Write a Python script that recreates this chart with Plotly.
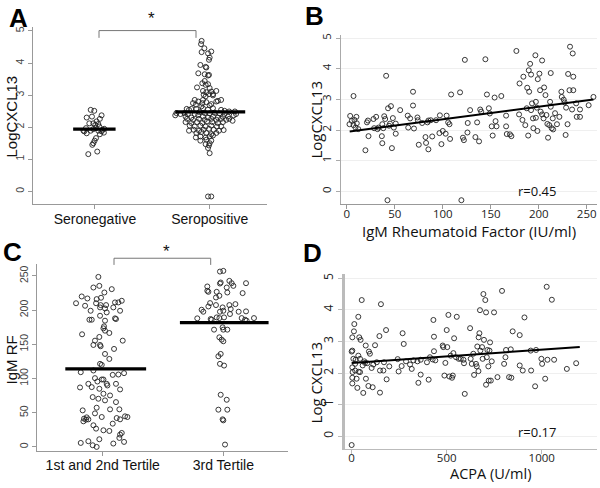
import numpy as np
import plotly.graph_objects as go

# ---------------- Panel A data ----------------
a_categories = ["Seronegative", "Seropositive"]
a_neg_jitter = [-0.037, -0.006, -0.026, -0.072, 0.058, 0.043, 0.014, -0.014, -0.049, 0.003,
                0.029, 0.038, -0.078, -0.093, -0.072, -0.037, -0.014, 0.009, 0.029, 0.058,
                0.081, 0.078, 0.043, 0.009, -0.003, -0.014, -0.023, -0.058, 0.020, -0.10, 0.067]
a_neg_values = [2.54, 2.51, 2.33, 2.30, 2.37, 2.26, 2.18, 2.12, 2.12, 2.07,
                2.10, 2.02, 1.97, 1.87, 1.81, 1.89, 1.94, 1.97, 1.89, 1.87,
                1.95, 1.83, 1.78, 1.66, 1.58, 1.50, 1.45, 1.16, 1.24, 1.89, 1.92]
a_pos_jitter = [-0.07, -0.075, -0.046, -0.07, -0.014, 0.014, 0, -0.006, -0.081, -0.035,
                -0.029, -0.099, -0.043, -0.006, -0.014, -0.043, -0.064, -0.014, -0.11, -0.035,
                0, -0.058, -0.029, 0.014, 0.058, -0.006, 0.029, -0.052, -0.035, 0.029,
                -0.13, -0.10, -0.145, -0.058, 0.072, 0.10, -0.064, -0.029, 0.014, 0.058,
                -0.12, -0.072, 0, -0.20, -0.18, -0.16, -0.116, -0.058, -0.014, 0.029,
                0.10, 0.13, 0.17, 0.22, -0.29, -0.255, -0.22, -0.19, -0.13, -0.087,
                -0.043, 0, 0.043, 0.087, 0.13, 0.23, -0.30, -0.21, -0.16, -0.10,
                -0.058, -0.014, 0.029, 0.072, 0.116, 0.16, 0.21, -0.197, -0.145, -0.093,
                -0.043, 0.014, 0.058, 0.10, 0.145, 0.17, -0.21, -0.16, -0.11, -0.064,
                -0.023, 0.023, 0.072, 0.116, 0.20, -0.174, -0.13, -0.081, -0.035, 0.014,
                0.064, 0.10, -0.18, -0.139, -0.093, -0.052, -0.006, 0.035, 0.081, 0.122,
                -0.116, -0.072, -0.029, 0.014, 0.058, -0.12, -0.081, -0.035, 0, 0.029,
                -0.081, -0.029, 0.014, -0.035, 0, -0.006, -0.014, 0, -0.014, 0.014]
a_pos_values = [4.69, 4.59, 4.46, 4.34, 4.30, 4.36, 4.17, 4.10, 3.94, 3.88,
                3.86, 3.68, 3.65, 3.63, 3.61, 3.44, 3.37, 3.34, 3.24, 3.32,
                3.22, 3.13, 3.09, 3.11, 3.13, 3.03, 3.03, 3.01, 2.96, 2.99,
                2.85, 2.80, 2.75, 2.85, 2.82, 2.85, 2.75, 2.78, 2.72, 2.80,
                2.70, 2.65, 2.68, 2.57, 2.54, 2.57, 2.57, 2.59, 2.55, 2.59,
                2.54, 2.51, 2.49, 2.49, 2.44, 2.41, 2.44, 2.41, 2.41, 2.47,
                2.44, 2.43, 2.45, 2.43, 2.41, 2.41, 2.37, 2.33, 2.30, 2.37,
                2.33, 2.30, 2.33, 2.30, 2.33, 2.33, 2.37, 2.26, 2.23, 2.26,
                2.23, 2.26, 2.23, 2.26, 2.23, 2.26, 2.16, 2.13, 2.16, 2.13,
                2.18, 2.16, 2.13, 2.16, 2.20, 2.05, 2.02, 2.05, 2.02, 2.05,
                2.02, 2.02, 1.89, 1.92, 1.89, 1.92, 1.95, 1.92, 1.89, 1.91,
                1.82, 1.85, 1.82, 1.78, 1.82, 1.68, 1.71, 1.68, 1.71, 1.74,
                1.58, 1.61, 1.58, 1.47, 1.50, 1.43, 1.35, 1.19, -0.16, -0.16]
a_means = [1.94, 2.48]
a_mean_span = [(-0.19, 0.18), (-0.30, 0.31)]

# ---------------- Panel B data ----------------
b_rf = [2.8, 3.5, 5.2, 7, 7, 8, 9, 10, 10.4, 12, 19.4, 21, 22.6, 22, 27.8, 28.5, 30.6, 32, 33,
        36.5, 37, 37, 38, 39, 40, 41, 42.4, 43, 44, 45, 46, 47, 48, 49, 51, 51, 55.6, 63.5, 64,
        66, 69, 69, 70, 73.6, 74, 75, 78.5, 82, 82.6, 84, 85, 85, 87.5, 89, 93, 96.5, 97, 98.6,
        100, 103, 104, 105.6, 107, 107.6, 108.7, 118, 119.4, 121, 122, 123, 125.7, 126, 128.5,
        134, 135.8, 137.8, 139, 140, 144.4, 146, 148, 149, 151, 152, 154, 155, 156, 161, 166,
        166, 166.7, 170, 171.5, 176.7, 179.5, 180, 183, 184, 186, 187.5, 188, 189, 189.6, 190,
        191, 192, 192, 193, 194, 194.4, 196.5, 197, 197, 198, 198.6, 199, 200.7, 201.4, 202,
        203.5, 203.5, 205, 205.6, 207, 208, 209, 209.7, 211, 211.8, 212.5, 212.5, 213.5, 214.6,
        215, 217, 219, 221.5, 223.6, 224, 226, 227, 228, 228.5, 230, 230.6, 232, 232.6, 234.7,
        235.4, 236, 236, 239, 239.6, 243, 243, 252, 257]
b_cxcl13 = [2.19, 2.46, 2.30, 3.11, 2.16, 2.33, 2.08, 2.43, 2.22, 2.03, 1.34, 2.25, 1.80, 2.31,
            2.36, 2.06, 2.43, 2.03, 2.08, 1.80, 1.57, 2.19, 2.06, 2.45, 2.36, 3.77, -0.29, 2.71,
            2.14, 2.21, 2.78, 1.41, 2.39, 2.08, 2.21, 1.88, 2.65, 2.47, 2.08, 2.38, 3.25, 2.80,
            2.05, 2.41, 2.32, 1.52, 2.23, 1.77, 1.58, 2.25, 1.37, 2.31, 2.32, 1.79, 2.32, 1.90,
            2.48, 1.54, 1.97, 1.88, 2.47, 2.25, 2.19, 1.71, 3.16, 3.23, -0.29, 1.75, 1.67, 4.29,
            1.92, 2.23, 2.65, 1.77, 2.25, 1.63, 2.67, 2.60, 4.31, 3.16, 2.71, 2.54, 2.12, 1.82,
            3.06, 2.29, 2.12, 3.11, 2.47, 2.12, 1.87, 1.86, 1.80, 4.58, 2.51, 3.52, 2.33, 3.74,
            2.16, 2.71, 3.38, 1.82, 3.95, 3.25, 4.16, 3.81, 2.65, 2.87, 2.38, 2.06, 4.44, 2.92,
            2.40, 2.73, 1.97, 3.66, 3.84, 3.30, 2.60, 4.27, 2.51, 2.38, 3.39, 3.14, 2.49, 2.20,
            1.75, 2.16, 2.92, 3.86, 2.76, 2.06, 2.38, 2.02, 2.55, 2.19, 2.43, 3.25, 3.08, 2.99,
            2.90, 1.84, 2.73, 2.19, 3.83, 3.30, 4.72, 2.67, 4.50, 3.74, 3.30, 2.87, 2.43, 2.43,
            2.67, 2.81, 3.08]
b_fit_x = [3, 257]
b_fit_y = [1.95, 3.00]
b_r_label = "r=0.45"

# ---------------- Panel C data ----------------
c_categories = ["1st and 2nd Tertile", "3rd Tertile"]
c_low_jitter = [-0.036, -0.077, -0.028, 0.075, 0.014, -0.174, -0.127, -0.05, -0.014, -0.221,
                -0.146, -0.055, -0.017, 0.028, 0.102, 0.13, 0.158, -0.10, -0.022, 0.019,
                0.088, 0.144, -0.022, 0.033, -0.11, -0.091, 0.019, 0.102, 0.11, 0.011,
                0.006, 0.019, 0.055, -0.171, -0.028, -0.064, -0.077, -0.022, -0.017, 0.166,
                0.094, 0.019, 0.055, -0.022, -0.008, -0.182, -0.077, 0.083, 0.13, 0.177,
                -0.064, -0.008, -0.044, 0.006, -0.119, -0.091, -0.188, -0.028, 0.039, 0.033,
                0.11, 0.144, 0.006, 0.061, -0.083, -0.036, 0.019, 0.11, -0.05, 0.061,
                0.138, -0.166, -0.064, -0.008, -0.133, -0.155, -0.138, -0.16, -0.119, 0.185,
                0.205, 0.116, 0.144, 0.083, -0.077, -0.055, 0.006, 0.055, 0.144, 0.158,
                0.138, -0.182, -0.119, -0.083, -0.05, -0.028, 0.088, 0.177]
c_low_values = [248.5, 233, 235.4, 230.6, 225.7, 219.9, 217, 216, 218, 210,
                206.3, 210, 207.3, 207.3, 211.2, 211.2, 213.6, 199, 203.9, 202.4,
                203.9, 199, 191.7, 196.6, 185.9, 185.9, 184.5, 187.9, 186.9, 176.2,
                173.3, 169.9, 166.5, 164.6, 160.7, 155.3, 149, 149, 147.1, 155.3,
                143.2, 135.9, 128.6, 121.4, 119.9, 109.2, 111.7, 105.3, 105.8, 107.8,
                100.5, 98.5, 95.6, 98.5, 92.2, 87.4, 86.9, 85, 89.8, 92.2,
                92.2, 84, 77.7, 75.2, 72.8, 70.4, 68, 65.5, 57.3, 54.9,
                54.9, 53.4, 49, 43.7, 43.2, 41.3, 39.8, 37.4, 40.3, 44.7,
                43.7, 42.2, 40.3, 34, 31.6, 26.7, 24.3, 23.3, 17.96, 20.4,
                13.1, 5.8, 8.3, 2.4, 0, 11.2, 4.9, 7.3]
c_high_jitter = [-0.028, 0, -0.022, -0.028, 0.05, 0.069, 0.083, 0.188, -0.133, -0.055,
                 0.028, -0.133, -0.124, -0.061, -0.033, 0.033, 0.16, -0.11, -0.124, -0.061,
                 -0.006, 0.05, 0.1, 0.061, -0.028, 0, -0.18, -0.166, 0.127, 0.188,
                 -0.055, -0.105, -0.097, -0.033, 0.006, 0.055, 0.152, 0.18, 0.193, 0.254,
                 -0.216, -0.077, -0.006, 0, 0.033, -0.033, -0.014, 0, -0.022, -0.041,
                 -0.028, 0.006, -0.022, 0.028, -0.041, 0.033, -0.006, 0, 0.014]
c_high_values = [256.3, 257.3, 240.3, 238.8, 242.7, 239.3, 235.4, 239.3, 234.5, 226.7,
                 233, 228.2, 226.7, 218.4, 220.9, 225.7, 224.8, 210.2, 205.3, 207.3,
                 203.9, 207.3, 208.7, 201.5, 197.6, 199, 200.5, 197.6, 197.6, 198.1,
                 189.3, 186.9, 185.9, 188.3, 189.3, 194.2, 188.3, 185.9, 184.5, 188.3,
                 187.9, 171.4, 174.8, 171.4, 171.4, 160.2, 156.8, 154.4, 135.9, 132.5,
                 121.4, 118.9, 76.2, 68.9, 54.4, 54.4, 40.3, 38.8, 3.4]
c_means = [114, 181.6]
c_mean_span = [(-0.31, 0.36), (-0.36, 0.375)]

# ---------------- Panel D data ----------------
d_acpa = [0, 0, 3.5, 3.5, 3.5, 3.5, 3.5, 5, 9, 12, 14, 18, 18, 21, 26, 30, 35, 35, 37, 40, 44,
          44, 47, 53, 58, 61, 67, 70, 74, 75, 82, 88, 91, 96, 105, 110.5, 114, 123, 132, 146,
          149, 149, 154, 167, 170, 181, 184, 198, 242, 247, 263, 268, 274, 286, 307, 316, 325,
          346, 351, 363, 363, 396, 405, 412, 426, 430, 433, 433, 440, 479, 482, 488, 493, 500,
          503, 509, 514, 521, 528, 532, 535, 539, 549, 553, 563, 574, 588, 591, 595, 623, 626,
          632, 640, 644, 654, 658, 661, 667, 668, 672, 675, 677, 686, 689, 693, 696, 703, 707,
          707, 711, 714, 719, 721, 725, 728, 732, 737, 749, 767, 791, 802, 809, 812, 828, 837,
          840, 847, 884, 884, 900, 909, 942, 944, 970, 965, 998, 1002, 1018, 1026, 1030, 1053,
          1065, 1132, 1181]
d_cxcl13 = [-0.28, 2.68, 2.71, 3.13, 1.85, 1.67, 2.18, 2.03, 2.45, 3.32, 3.55, 2.08, 2.29, 2.42,
            1.82, 1.53, 3.78, 2.55, 2.04, 3.13, 2.03, 2.45, 3.05, 4.31, 2.24, 1.37, 2.37, 2.32,
            2.87, 1.82, 2.31, 1.59, 2.68, 2.61, 2.16, 1.55, 2.27, 2.88, 2.34, 3.17, 2.08, 1.38,
            4.18, 2.08, 2.34, 3.36, 1.80, 2.21, 2.44, 2.05, 2.22, 3.26, 2.92, 2.37, 2.27, 2.13,
            2.40, 2.37, 1.69, 1.95, 2.42, 2.34, 1.79, 2.50, 2.43, 3.68, 3.15, 2.69, 2.40, 2.87,
            2.82, 1.92, 2.32, 3.36, 2.82, 3.84, 1.89, 2.55, 1.85, 1.92, 2.63, 3.10, 2.50, 3.78,
            2.45, 2.45, 2.42, 2.31, 1.34, 3.42, 2.45, 2.29, 2.61, 1.94, 2.29, 2.21, 2.84, 2.06,
            3.13, 3.26, 3.99, 2.71, 2.82, 2.45, 4.50, 3.05, 4.31, 3.92, 1.63, 2.50, 2.73, 2.21,
            1.76, 2.71, 2.97, 1.76, 2.37, 3.92, 1.87, 4.60, 2.29, 2.50, 2.73, 1.87, 2.75, 1.85,
            3.32, 3.20, 2.24, 2.08, 3.76, 2.71, 2.08, 2.73, 1.58, 2.45, 2.29, 1.82, 4.73, 2.42,
            4.32, 2.42, 2.13, 2.31]
d_fit_x = [0, 1200]
d_fit_y = [2.32, 2.82]
d_r_label = "r=0.17"

# ---------------- Figure ----------------
W, H = 600, 488
ARIAL = "Liberation Sans, Arial, sans-serif"
OPEN = "Open Sans, Noto Sans, sans-serif"
marker = dict(symbol="circle-open", size=5, color="#222", line=dict(width=0.9, color="#222"))

fig = go.Figure()

def strip(cat, jit, vals, xa, ya):
    x = [cat + j for j in jit]
    fig.add_trace(go.Scatter(x=x, y=vals, mode="markers", marker=marker,
                             xaxis=xa, yaxis=ya, hoverinfo="y", showlegend=False))

def mean_line(cat, m, span, xa, ya):
    fig.add_trace(go.Scatter(x=[cat + span[0], cat + span[1]], y=[m, m], mode="lines",
                             line=dict(color="black", width=3.2), xaxis=xa, yaxis=ya,
                             hoverinfo="skip", showlegend=False))

# A
strip(1, a_neg_jitter, a_neg_values, "x", "y")
strip(2, a_pos_jitter, a_pos_values, "x", "y")
for i, m in enumerate(a_means):
    mean_line(i + 1, m, a_mean_span[i], "x", "y")

# B
fig.add_trace(go.Scatter(x=b_rf, y=b_cxcl13, mode="markers", marker=marker,
                         xaxis="x2", yaxis="y2", showlegend=False))
fig.add_trace(go.Scatter(x=b_fit_x, y=b_fit_y, mode="lines", line=dict(color="black", width=2),
                         xaxis="x2", yaxis="y2", showlegend=False, hoverinfo="skip"))

# C
strip(1, c_low_jitter, c_low_values, "x3", "y3")
strip(2, c_high_jitter, c_high_values, "x3", "y3")
for i, m in enumerate(c_means):
    mean_line(i + 1, m, c_mean_span[i], "x3", "y3")

# D
fig.add_trace(go.Scatter(x=d_acpa, y=d_cxcl13, mode="markers", marker=marker,
                         xaxis="x4", yaxis="y4", showlegend=False))
fig.add_trace(go.Scatter(x=d_fit_x, y=d_fit_y, mode="lines", line=dict(color="black", width=2),
                         xaxis="x4", yaxis="y4", showlegend=False, hoverinfo="skip"))

def px(x):
    return x / W

def py(y):
    return 1 - y / H

r_axis_common = dict(showline=True, linecolor="#999", linewidth=1, ticks="outside",
                     ticklen=4, tickcolor="#999", zeroline=False, showgrid=False)

fig.update_layout(
    width=W, height=H, margin=dict(l=0, r=0, t=0, b=0),
    paper_bgcolor="white", plot_bgcolor="white",
    xaxis=dict(domain=[0.055, 0.445], range=[0.46, 2.50], tickvals=[1, 2], ticktext=a_categories,
               tickfont=dict(family=ARIAL, size=14, color="#111"), anchor="y",
               ticklabelstandoff=-2, **r_axis_common),
    yaxis=dict(domain=[0.584, 0.949], range=[-0.40, 5.13], tickvals=[0, 1, 2, 3, 4, 5],
               tickangle=-90, tickfont=dict(family=ARIAL, size=10.5, color="#444"), anchor="x",
               **r_axis_common),
    xaxis2=dict(domain=[0.568, 0.995], range=[-6.25, 260.7], tickvals=[0, 50, 100, 150, 200, 250],
                tickfont=dict(family=OPEN, size=11.5, color="#222"), anchor="y2",
                ticklabelstandoff=-5, **r_axis_common),
    yaxis2=dict(domain=[0.5846, 0.932], range=[-0.41, 5.10], tickvals=[0, 1, 2, 3, 4, 5],
                tickangle=-90, tickfont=dict(family=OPEN, size=11.5, color="#222"), anchor="x2",
                showline=True, linecolor="#aaa", linewidth=1, ticks="outside", ticklen=4,
                tickcolor="#aaa", zeroline=False, showgrid=True, gridcolor="#efefef"),
    xaxis3=dict(domain=[0.0622, 0.48], range=[0.458, 2.536], tickvals=[1, 2], ticktext=c_categories,
                tickfont=dict(family=ARIAL, size=14, color="#111"), anchor="y3",
                ticklabelstandoff=-3, **r_axis_common),
    yaxis3=dict(domain=[0.0764, 0.4604], range=[-5.8, 267], tickvals=[0, 50, 100, 150, 200, 250],
                tickangle=-90, tickfont=dict(family=ARIAL, size=10.5, color="#444"), anchor="x3",
                **r_axis_common),
    xaxis4=dict(domain=[0.575, 0.9945], range=[-35, 1289], tickvals=[0, 500, 1000],
                tickfont=dict(family=OPEN, size=11.5, color="#222"), anchor="y4",
                ticklabelstandoff=-6,
                showline=True, linecolor="#bbb", linewidth=1, ticks="outside", ticklen=4,
                tickcolor="#bbb", zeroline=False, showgrid=False),
    yaxis4=dict(domain=[0.0793, 0.44], range=[-0.42, 5.13], tickvals=[0, 1, 2, 3, 4, 5],
                tickangle=-90, tickfont=dict(family=OPEN, size=12, color="#222"), anchor="x4",
                showline=True, linecolor="#bbb", linewidth=2.5, ticks="outside", ticklen=4,
                tickcolor="#bbb", zeroline=False, showgrid=True, gridcolor="#efefef"),
)

ann = []
def text(x, y, s, size, family, bold=False, angle=0, color="#111"):
    ann.append(dict(x=px(x), y=py(y), xref="paper", yref="paper", text=f"<b>{s}</b>" if bold else s,
                    showarrow=False, textangle=angle, xanchor="center", yanchor="middle",
                    font=dict(family=family, size=size, color=color)))

# panel letters
text(18, 16, "A", 26, ARIAL, bold=True, color="black")
text(314, 14, "B", 26, ARIAL, bold=True, color="black")
text(12, 251, "C", 26, ARIAL, bold=True, color="black")
text(313, 252, "D", 26, ARIAL, bold=True, color="black")
# axis titles
text(12, 115, "LogCXCL13", 15, ARIAL, angle=-90)
text(316, 118, "LogCXCL13", 15, OPEN, angle=-90)
text(469, 230, "IgM Rheumatoid Factor (IU/ml)", 15, OPEN)
text(12, 360, "IgM RF", 15, ARIAL, angle=-90)
text(316, 382, "Log CXCL13", 15, OPEN, angle=-90)
text(491, 473, "ACPA (U/ml)", 14.5, OPEN)
# r labels
text(537, 190, b_r_label, 13, OPEN)
text(537, 432, d_r_label, 13, OPEN)
# significance stars
text(151, 17, "*", 17, ARIAL)
text(166, 251, "*", 17, ARIAL)

shapes = []
def bracket(x0, x1, ytop, ybot):
    shapes.append(dict(type="path", xref="paper", yref="paper",
                       path=f"M {px(x0)} {py(ybot)} L {px(x0)} {py(ytop)} L {px(x1)} {py(ytop)} L {px(x1)} {py(ybot)}",
                       line=dict(color="#777", width=1)))

bracket(99, 196, 28.7, 36)
bracket(114, 210.7, 257.3, 264)

fig.update_layout(annotations=ann, shapes=shapes)
fig.write_html("out.html", config={"displayModeBar": False},
               post_script="document.body.style.margin='0';document.body.style.padding='0';")
